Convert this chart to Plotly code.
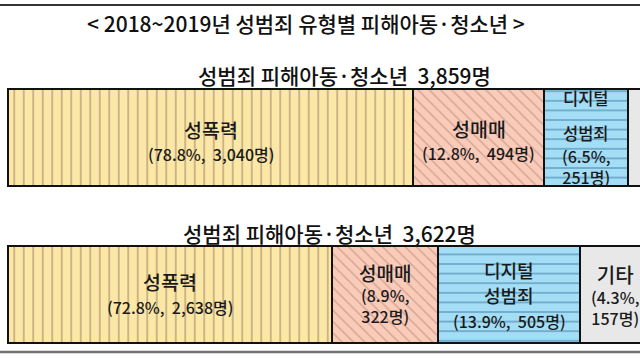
import plotly.graph_objects as go

# ---------------- data ----------------
years = ["2018", "2019"]
categories = ["성폭력", "성매매", "디지털 성범죄", "기타"]
totals = [3859, 3622]
counts_2018 = [3040, 494, 251, 74]
counts_2019 = [2638, 322, 505, 157]
pct_2018 = [78.8, 12.8, 6.5, 1.9]
pct_2019 = [72.8, 8.9, 13.9, 4.3]
title_text = "< 2018~2019년 성범죄 유형별 피해아동·청소년 >"
subtitle_prefix = "성범죄 피해아동·청소년"

counts = {"2018": counts_2018, "2019": counts_2019}
pcts = {"2018": pct_2018, "2019": pct_2019}

# ---------------- layout / style ----------------
W, H = 640, 359
FONT = "Noto Sans CJK KR, Noto Sans, sans-serif"
# infographic segment display lengths (drawn lengths are not proportional to values)
seg_len = {"2018": [405, 131, 84, 55], "2019": [324, 106, 142, 70]}
year_pos = {"2018": 1, "2019": 0}
bar_w = 0.618
px_per_unit = 157.0
top_center_px = 137.5
y_top = 1 + top_center_px / px_per_unit
y_range = [y_top - H / px_per_unit, y_top]
x_range = [-8, W - 8]

fills = ["#FCE8A6", "#F9CCBA", "#A3DDF6", "#E8E8E8"]
fgs = ["#C3AA82", "#D6A090", "#69A6C3", "#E8E8E8"]
shapes_pat = ["|", "\\", "-", ""]
pat_size = [9.5, 8, 9.6, 8]

wrap_name = {"2018": [False, False, True, False], "2019": [False, False, True, False]}
wrap_val = {"2018": [False, False, True, True], "2019": [False, True, False, True]}
# segments whose name and value lines form one evenly spaced text block
merged = {"2018": [False, False, False, True], "2019": [False, True, False, True]}
merged_offset = {"2018": [0, 0, 0, 8], "2019": [0, -1, 0, 0]}
# pixel offsets from bar centre: name lines, then value block centre
name_offsets = {
    "2018": [[-8.5], [-9], [-40, -5], [-10]],
    "2019": [[-13], [-22], [-24.5, 0], [-20]],
}
val_offsets = {"2018": [16, 15, 28.5, 20], "2019": [12.5, 9.5, 26, 11]}
name_size = {"2018": [19.5, 19.5, 16.5, 19.5], "2019": [19.5, 19, 18, 20]}
val_size = 16
subtitle_px = {"2018": (344, 75), "2019": (329, 233)}
TEXT_W = 500

fig = go.Figure()
for i, cat in enumerate(categories):
    fig.add_trace(go.Bar(
        orientation="h",
        y=[year_pos[yr] for yr in years],
        x=[seg_len[yr][i] for yr in years],
        width=bar_w,
        name=cat,
        customdata=[[counts[yr][i], pcts[yr][i]] for yr in years],
        hovertemplate=cat + ": %{customdata[0]:,}명 (%{customdata[1]}%)<extra></extra>",
        marker=dict(
            color=fills[i],
            line=dict(color="#111111", width=2),
            pattern=dict(shape=shapes_pat[i], fgcolor=fgs[i], bgcolor=fills[i],
                         size=pat_size[i], solidity=0.17, fillmode="replace"),
        ),
    ))

annotations = []


def add_text(x, y, text, size, shift):
    annotations.append(dict(
        x=x, y=y, xref="x", yref="y", text=text, showarrow=False,
        yshift=-shift, xanchor="center", yanchor="middle", borderpad=0,
        font=dict(family=FONT, size=size, color="#1a1a1a", weight=TEXT_W),
    ))


for yr in years:
    start = 0
    for i, cat in enumerate(categories):
        L = seg_len[yr][i]
        cx = start + L / 2
        start += L
        yy = year_pos[yr]
        p, c = pcts[yr][i], counts[yr][i]
        names = cat.split(" ") if wrap_name[yr][i] else [cat]
        if wrap_val[yr][i]:
            vals = [f"({p}%,", f"{c:,}명)"]
        else:
            vals = [f"({p}%,\u00a0 {c:,}명)"]
        if merged[yr][i]:
            ns = name_size[yr][i]
            block = "<br>".join([f"<span style='font-size:{ns}px'>{t}</span>" for t in names] + vals)
            add_text(cx, yy, block, val_size, merged_offset[yr][i])
        else:
            for t, off in zip(names, name_offsets[yr][i]):
                add_text(cx, yy, t, name_size[yr][i], off)
            add_text(cx, yy, "<br>".join(vals), val_size, val_offsets[yr][i])

# title and subtitles
annotations.append(dict(
    x=306 / W, y=1 - 23 / H, xref="paper", yref="paper", text=title_text,
    showarrow=False, xanchor="center", yanchor="middle",
    font=dict(family=FONT, size=21, color="#111111", weight=TEXT_W),
))
for k, yr in enumerate(years):
    sx, sy = subtitle_px[yr]
    annotations.append(dict(
        x=sx / W, y=1 - sy / H, xref="paper", yref="paper",
        text=f"{subtitle_prefix}\u00a0 {totals[k]:,}명",
        showarrow=False, xanchor="center", yanchor="middle",
        font=dict(family=FONT, size=21, color="#111111", weight=TEXT_W),
    ))

shapes = [
    dict(type="line", xref="paper", yref="paper", x0=0, x1=1,
         y0=1 - 5 / H, y1=1 - 5 / H, line=dict(color="#333333", width=2)),
    dict(type="line", xref="paper", yref="paper", x0=0, x1=1,
         y0=1 - 352 / H, y1=1 - 352 / H, line=dict(color="#707070", width=2.5)),
]

fig.update_layout(
    width=W, height=H, margin=dict(l=0, r=0, t=0, b=0),
    barmode="stack", showlegend=False,
    paper_bgcolor="white", plot_bgcolor="white",
    xaxis=dict(range=x_range, visible=False, fixedrange=True),
    yaxis=dict(range=y_range, visible=False, fixedrange=True),
    annotations=annotations, shapes=shapes,
)
fig.write_html(
    "out.html",
    config={"displayModeBar": False},
    post_script="document.body.style.margin='0';document.body.style.overflow='hidden';",
)
